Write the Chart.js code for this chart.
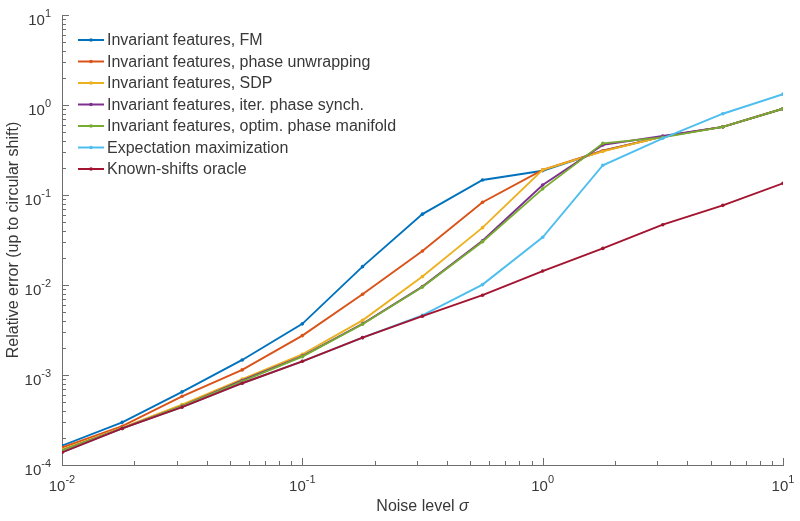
<!DOCTYPE html>
<html>
<head>
<meta charset="utf-8">
<script src="https://cdn.jsdelivr.net/npm/chart.js@4/dist/chart.umd.min.js"></script>
<style>
  body { margin: 0; background: #fff; }
  #wrap { width: 800px; height: 521px; }
</style>
</head>
<body>
<div id="wrap"><canvas id="err_chart"></canvas></div>
<script>
// noise levels (logspace(-2, 1, 13))
var sigma = [0.01, 0.0178, 0.0316, 0.0562, 0.1, 0.178, 0.316, 0.562, 1, 1.78, 3.16, 5.62, 10]

var labels = [
  'Invariant features, FM',
  'Invariant features, phase unwrapping',
  'Invariant features, SDP',
  'Invariant features, iter. phase synch.',
  'Invariant features, optim. phase manifold',
  'Expectation maximization',
  'Known-shifts oracle'
]

var err_fm      = [1.64e-4, 2.98e-4, 6.5e-4, 1.47e-3, 3.7e-3, 0.016, 0.0613, 0.147, 0.186, 0.31, 0.445, 0.572, 0.91]
var err_unwrap  = [1.56e-4, 2.7e-4, 5.8e-4, 1.14e-3, 2.74e-3, 7.9e-3, 0.0239, 0.083, 0.19, 0.31, 0.445, 0.572, 0.91]
var err_sdp     = [1.49e-4, 2.6e-4, 4.7e-4, 9.0e-4, 1.7e-3, 4.05e-3, 0.0124, 0.0434, 0.19, 0.305, 0.445, 0.572, 0.91]
var err_synch   = [1.45e-4, 2.55e-4, 4.5e-4, 8.7e-4, 1.62e-3, 3.7e-3, 9.6e-3, 0.031, 0.129, 0.36, 0.453, 0.572, 0.91]
var err_optim   = [1.45e-4, 2.55e-4, 4.5e-4, 8.5e-4, 1.6e-3, 3.66e-3, 9.5e-3, 0.0303, 0.117, 0.375, 0.437, 0.572, 0.91]
var err_em      = [1.38e-4, 2.55e-4, 4.4e-4, 8.1e-4, 1.42e-3, 2.6e-3, 4.6e-3, 0.0101, 0.0339, 0.214, 0.427, 0.80, 1.32]
var err_oracle  = [1.38e-4, 2.55e-4, 4.4e-4, 8.1e-4, 1.42e-3, 2.6e-3, 4.5e-3, 7.7e-3, 0.0143, 0.0255, 0.0468, 0.0767, 0.135]

var x_decades = [-2, -1, 0, 1]
var y_decades = [-4, -3, -2, -1, 0, 1]

var colors = ['#0072BD', '#D95319', '#EDB120', '#7E2F8E', '#77AC30', '#4DBEEE', '#A2142F']
var series = [err_fm, err_unwrap, err_sdp, err_synch, err_optim, err_em, err_oracle]

var FONT = '"Liberation Sans", Arial, Helvetica, sans-serif'
var INK = '#383838'
var AXIS = '#6e6e6e'

var datasets = series.map(function (vals, i) {
  return {
    label: labels[i],
    data: sigma.map(function (s, j) { return { x: s, y: vals[j] } }),
    borderColor: colors[i],
    backgroundColor: colors[i],
    borderWidth: 1.9,
    pointRadius: 1.8,
    pointHoverRadius: 1.8,
    pointBorderWidth: 0,
    tension: 0,
    order: series.length - i   // later series on top, like matlab
  }
})

function drawPow(ctx, exp, x, y, align, big, small, raise) {
  ctx.font = big + 'px ' + FONT
  var w1 = ctx.measureText('10').width
  ctx.font = small + 'px ' + FONT
  var w2 = ctx.measureText(String(exp)).width
  var start = align === 'right' ? x - w1 - w2 : x - (w1 + w2) / 2
  ctx.textAlign = 'left'
  ctx.textBaseline = 'alphabetic'
  ctx.font = big + 'px ' + FONT
  ctx.fillText('10', start, y)
  ctx.font = small + 'px ' + FONT
  ctx.fillText(String(exp), start + w1, y - raise)
}

var decorations = {
  id: 'decorations',
  afterDraw: function (chart) {
    var ctx = chart.ctx
    var xs = chart.scales.x
    var ys = chart.scales.y
    var area = chart.chartArea
    ctx.save()

    // inward ticks
    ctx.strokeStyle = AXIS
    ctx.lineWidth = 1
    ctx.beginPath()
    for (var d = -2; d <= 1; d++) {
      for (var k = 1; k <= 9; k++) {
        var v = k * Math.pow(10, d)
        if (v > 10.0001) break
        var px = Math.round(xs.getPixelForValue(v)) + 0.5
        var len = k === 1 ? 7 : 4
        ctx.moveTo(px, area.bottom)
        ctx.lineTo(px, area.bottom - len)
      }
    }
    for (var d = -4; d <= 1; d++) {
      for (var k = 1; k <= 9; k++) {
        var v = k * Math.pow(10, d)
        if (v > 10.0001) break
        var py = Math.round(ys.getPixelForValue(v)) + 0.5
        var len = k === 1 ? 7 : 4
        ctx.moveTo(area.left, py)
        ctx.lineTo(area.left + len, py)
      }
    }
    ctx.stroke()

    // tick labels
    ctx.fillStyle = INK
    x_decades.forEach(function (e) {
      var px = xs.getPixelForValue(Math.pow(10, e))
      drawPow(ctx, e, px, area.bottom + 26, 'center', 15, 11, 8)
    })
    y_decades.forEach(function (e) {
      var py = ys.getPixelForValue(Math.pow(10, e))
      drawPow(ctx, e, 51, py + 10, 'right', 15, 11, 8)
    })

    // axis titles
    var t1 = 'Noise level '
    ctx.font = 'italic 16px ' + FONT
    var wsig = ctx.measureText('\u03c3').width
    ctx.font = '16px ' + FONT
    var w1 = ctx.measureText(t1).width
    var cx = (area.left + area.right) / 2
    var sx = cx - (w1 + wsig) / 2
    ctx.textAlign = 'left'
    ctx.textBaseline = 'middle'
    ctx.fillText(t1, sx, 507)
    ctx.font = 'italic 16px ' + FONT
    ctx.fillText('\u03c3', sx + w1, 507)

    ctx.save()
    ctx.translate(14, (area.top + area.bottom) / 2)
    ctx.rotate(-Math.PI / 2)
    ctx.font = '16px ' + FONT
    ctx.textAlign = 'center'
    ctx.textBaseline = 'middle'
    ctx.fillText('Relative error (up to circular shift)', 0, 0)
    ctx.restore()

    // legend
    labels.forEach(function (name, i) {
      var ly = 40 + i * 21.5
      ctx.strokeStyle = colors[i]
      ctx.lineWidth = 2
      ctx.beginPath()
      ctx.moveTo(78, ly)
      ctx.lineTo(104, ly)
      ctx.stroke()
      ctx.fillStyle = colors[i]
      ctx.beginPath()
      ctx.arc(91, ly, 1.8, 0, Math.PI * 2)
      ctx.fill()
      ctx.fillStyle = INK
      ctx.font = '16px ' + FONT
      ctx.textAlign = 'left'
      ctx.textBaseline = 'middle'
      ctx.fillText(name, 107, ly + 1)
    })

    ctx.restore()
  }
}

var ctx = document.getElementById('err_chart')

new Chart(ctx, {
  type: 'line',
  data: { datasets: datasets },
  options: {
    responsive: true,
    maintainAspectRatio: false,
    animation: false,
    layout: { padding: { top: 15, right: 17, left: 0, bottom: 0 } },
    plugins: {
      legend: { display: false },
      tooltip: { enabled: false }
    },
    scales: {
      x: {
        type: 'logarithmic',
        min: 0.01,
        max: 10,
        ticks: { display: false },
        grid: { display: false },
        border: { display: true, color: AXIS, width: 1 },
        afterFit: function (scale) { scale.height = 56 }
      },
      y: {
        type: 'logarithmic',
        min: 1e-4,
        max: 10,
        ticks: { display: false },
        grid: { display: false },
        border: { display: true, color: AXIS, width: 1 },
        afterFit: function (scale) { scale.width = 62 }
      }
    }
  },
  plugins: [decorations]
})
</script>
</body>
</html>
